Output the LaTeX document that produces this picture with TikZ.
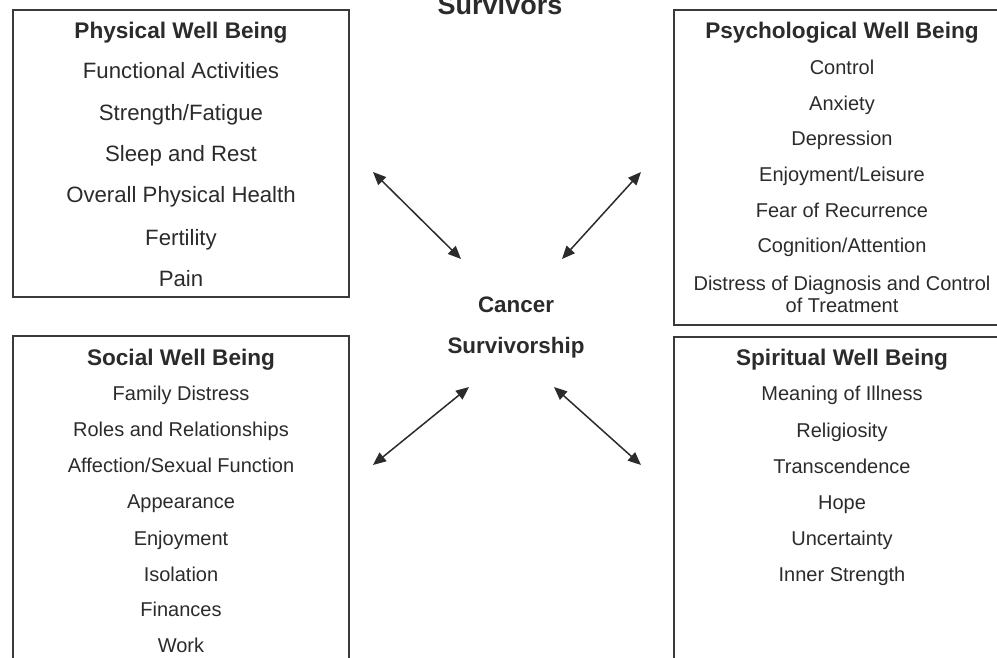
\documentclass[tikz,border=0pt]{standalone}
\usepackage{fontspec}
\setmainfont{Liberation Sans}
\usetikzlibrary{arrows.meta}
\definecolor{ink}{HTML}{2B2B2B}
\definecolor{edge}{HTML}{3A3A3A}
\begin{document}
\begin{tikzpicture}[x=1pt,y=-1pt,
  boxst/.style={draw=edge, line width=1.4pt, anchor=north west, inner sep=0pt, outer sep=0pt},
  hd/.style={anchor=base, text=ink, inner sep=0pt, font=\fontsize{22.6}{26}\selectfont\bfseries},
  bigitem/.style={anchor=base, text=ink, inner sep=0pt, font=\fontsize{22.2}{26}\selectfont},
  item/.style={anchor=base, text=ink, inner sep=0pt, font=\fontsize{20}{24}\selectfont},
  link/.style={draw=ink, line width=1.5pt, {Triangle[length=13pt,width=11pt]}-{Triangle[length=13pt,width=11pt]}}
]
\useasboundingbox (0,0) rectangle (997,658);
\clip (0,0) rectangle (997,658);
% boxes
\node[boxst, minimum width=336pt, minimum height=287pt] (physbox) at (13,10) {};
\node[boxst, minimum width=336pt, minimum height=315pt] (psybox) at (674,10) {};
\node[boxst, minimum width=336pt, minimum height=344pt] (socbox) at (13,336) {};
\node[boxst, minimum width=336pt, minimum height=344pt] (spibox) at (674,337) {};
% title
\node[anchor=base, text=ink, inner sep=0pt, font=\fontsize{27}{30}\selectfont\bfseries] (title) at (500,15) {Survivors};
% physical
\node[hd] (ph) at (181,39) {Physical Well Being};
\node[bigitem] (p1) at (181,79) {Functional Activities};
\node[bigitem] (p2) at (181,121) {Strength/Fatigue};
\node[bigitem] (p3) at (181,162) {Sleep and Rest};
\node[bigitem] (p4) at (181,203) {Overall Physical Health};
\node[bigitem] (p5) at (181,245) {Fertility};
\node[bigitem] (p6) at (181,286) {Pain};
% psychological
\node[hd] (qh) at (842,39) {Psychological Well Being};
\node[item] (q1) at (842,75) {Control};
\node[item] (q2) at (842,111) {Anxiety};
\node[item] (q3) at (842,146) {Depression};
\node[item] (q4) at (842,182) {Enjoyment/Leisure};
\node[item] (q5) at (842,218) {Fear of Recurrence};
\node[item] (q6) at (842,253) {Cognition/Attention};
\node[item] (q7) at (842,290) {Distress of Diagnosis and Control};
\node[item] (q8) at (842,312) {of Treatment};
% social
\node[hd] (sh) at (181,365) {Social Well Being};
\node[item] (s1) at (181,400) {Family Distress};
\node[item] (s2) at (181,436) {Roles and Relationships};
\node[item] (s3) at (181,472) {Affection/Sexual Function};
\node[item] (s4) at (181,508) {Appearance};
\node[item] (s5) at (181,545) {Enjoyment};
\node[item] (s6) at (181,581) {Isolation};
\node[item] (s7) at (181,616) {Finances};
\node[item] (s8) at (181,652) {Work};
% spiritual
\node[hd] (rh) at (842,365) {Spiritual Well Being};
\node[item] (r1) at (842,400) {Meaning of Illness};
\node[item] (r2) at (842,437) {Religiosity};
\node[item] (r3) at (842,473) {Transcendence};
\node[item] (r4) at (842,509) {Hope};
\node[item] (r5) at (842,545) {Uncertainty};
\node[item] (r6) at (842,581) {Inner Strength};
% centre
\node[hd, font=\fontsize{22.4}{26}\selectfont\bfseries] (c1) at (516,312) {Cancer};
\node[hd, font=\fontsize{22.4}{26}\selectfont\bfseries] (c2) at (516,353) {Survivorship};
% arrow ends
\coordinate (a1) at (373,172); \coordinate (b1) at (461,259);
\coordinate (a2) at (641,172); \coordinate (b2) at (562,259);
\coordinate (a3) at (373,465); \coordinate (b3) at (469,387);
\coordinate (a4) at (641,465); \coordinate (b4) at (554,387);
\draw[link] (a1) -- (b1);
\draw[link] (a2) -- (b2);
\draw[link] (a3) -- (b3);
\draw[link] (a4) -- (b4);
\end{tikzpicture}
\end{document}
